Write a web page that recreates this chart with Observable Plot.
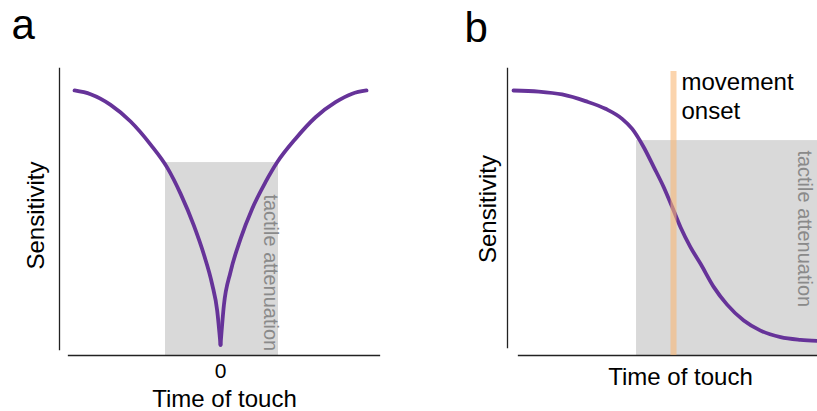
<!DOCTYPE html>
<html><head><meta charset="utf-8">
<script src="https://cdn.jsdelivr.net/npm/d3@7"></script>
<script src="https://cdn.jsdelivr.net/npm/@observablehq/plot@0.6"></script>
<style>
html,body{margin:0;padding:0;background:#fff;overflow:hidden;}
#wrap{display:flex;width:817px;height:411px;}
#wrap svg{display:block;flex:none;}
</style></head><body><div id="wrap"></div>
<script>
// ---- text ----
const panelLabels = ["a", "b"];
const axisTitleX = "Time of touch";
const axisTitleY = "Sensitivity";
const shadeLabel = "tactile attenuation";
const onsetLabel = "movement\nonset";

// ---- panel a: sensitivity around the time of touch ----
const aTime   = [-1.0, -0.89, -0.753, -0.616, -0.479, -0.365, -0.274, -0.183, -0.114, -0.057, -0.023, 0,
                 0, 0.023, 0.068, 0.137, 0.217, 0.308, 0.388, 0.514, 0.651, 0.788, 0.902, 1.0];
const aSens   = [1.0, 0.986, 0.946, 0.883, 0.796, 0.709, 0.611, 0.491, 0.381, 0.268, 0.17, 0.04,
                 0.04, 0.189, 0.314, 0.44, 0.554, 0.654, 0.729, 0.818, 0.899, 0.956, 0.988, 1.0];
const aBranch = ["before","before","before","before","before","before","before","before","before","before","before","before",
                 "after","after","after","after","after","after","after","after","after","after","after","after"];
const aTicks = [0];
const aShadeX = [-0.377, 0.397];
const aShadeY = [0, 0.728];
const aShadeLabelAt = [0.295, 0.608];

// ---- panel b: sensitivity around movement onset ----
const bTime = [-1.0, -0.842, -0.696, -0.55, -0.425, -0.321, -0.258, -0.186, -0.123, -0.061, -0.008, 0.044,
               0.106, 0.169, 0.252, 0.335, 0.439, 0.544, 0.669, 0.794, 0.9];
const bSens = [1.0, 0.996, 0.985, 0.96, 0.931, 0.893, 0.855, 0.786, 0.711, 0.635, 0.56, 0.484,
               0.409, 0.346, 0.258, 0.192, 0.132, 0.094, 0.069, 0.059, 0.055];
const bShadeX = [-0.231, 0.9];
const bShadeY = [0, 0.811];
const bOnset = [0];
const bOnsetTop = 1.072;
const bShadeLabelAt = [0.78, 0.774];

const font = "'Liberation Sans', Arial, Helvetica, sans-serif";
const purple = "#663399";
const shadeFill = "#d9d9d9";
const shadeText = "#8a8a8a";
const axisInk = "#222";
const titleSize = 24;

const dataA = aTime.map((t, i) => ({t, s: aSens[i], branch: aBranch[i]}));
const dataB = bTime.map((t, i) => ({t, s: bSens[i]}));

const plotA = Plot.plot({
  width: 410, height: 411,
  marginLeft: 59, marginRight: 31, marginTop: 68, marginBottom: 56,
  x: {domain: [-1.103, 1.089], axis: null},
  y: {domain: [0, 1.083], axis: null},
  style: {fontFamily: font, background: "white", color: "black"},
  marks: [
    Plot.rect([0], {x1: aShadeX[0], x2: aShadeX[1], y1: aShadeY[0], y2: aShadeY[1], fill: shadeFill}),
    Plot.text([shadeLabel], {x: aShadeLabelAt[0], y: aShadeLabelAt[1], text: d => d, rotate: 90,
      textAnchor: "start", lineAnchor: "bottom", fontSize: 20, fill: shadeText}),
    Plot.line(dataA, {x: "t", y: "s", z: "branch", stroke: purple, strokeWidth: 3.8, curve: "monotone-x"}),
    Plot.frame({anchor: "left", insetBottom: 6, stroke: axisInk, strokeWidth: 1.3}),
    Plot.frame({anchor: "bottom", insetLeft: 9, stroke: axisInk, strokeWidth: 1.3}),
    Plot.axisX(aTicks, {tickSize: 0, tickPadding: 8, fontSize: 21, label: null, tickFormat: d => String(d)}),
    Plot.text([axisTitleX], {frameAnchor: "bottom", text: d => d, dx: 5, dy: 51, textAnchor: "middle", lineAnchor: "bottom", fontSize: titleSize}),
    Plot.text([axisTitleY], {frameAnchor: "left", text: d => d, rotate: -90, dx: -16, dy: 3.5, textAnchor: "middle", lineAnchor: "bottom", fontSize: titleSize}),
    Plot.text([panelLabels[0]], {frameAnchor: "top-left", text: d => d, textAnchor: "start", lineAnchor: "bottom", dx: -48, dy: -30, fontSize: 42})
  ]
});

const plotB = Plot.plot({
  width: 407, height: 411,
  marginLeft: 97, marginRight: 0, marginTop: 68, marginBottom: 56,
  x: {domain: [-1.0375, 0.9], axis: null},
  y: {domain: [0, 1.083], axis: null},
  style: {fontFamily: font, background: "white", color: "black"},
  marks: [
    Plot.rect([0], {x1: bShadeX[0], x2: bShadeX[1], y1: bShadeY[0], y2: bShadeY[1], fill: shadeFill}),
    Plot.text([shadeLabel], {x: bShadeLabelAt[0], y: bShadeLabelAt[1], text: d => d, rotate: 90,
      textAnchor: "start", lineAnchor: "bottom", fontSize: 20, fill: shadeText}),
    Plot.line(dataB, {x: "t", y: "s", stroke: purple, strokeWidth: 3.8, curve: "monotone-x"}),
    Plot.frame({anchor: "left", insetBottom: 8, stroke: axisInk, strokeWidth: 1.3}),
    Plot.frame({anchor: "bottom", insetLeft: 11, stroke: axisInk, strokeWidth: 1.3}),
    Plot.ruleX(bOnset, {x: d => d, y1: 0, y2: bOnsetTop, stroke: "#f9b777", strokeOpacity: 0.6, strokeWidth: 6}),
    Plot.text([onsetLabel], {x: bOnset[0], y: bOnsetTop, text: d => d, dx: 8, dy: -2, textAnchor: "start",
      lineAnchor: "top", lineHeight: 1.2, fontSize: titleSize}),
    Plot.text([axisTitleX], {frameAnchor: "bottom", text: d => d, dx: 18, dy: 29, textAnchor: "middle", lineAnchor: "bottom", fontSize: titleSize}),
    Plot.text([axisTitleY], {frameAnchor: "left", text: d => d, rotate: -90, dx: -12, dy: -3, textAnchor: "middle", lineAnchor: "bottom", fontSize: titleSize}),
    Plot.text([panelLabels[1]], {frameAnchor: "top-left", text: d => d, textAnchor: "start", lineAnchor: "bottom", dx: -43, dy: -27, fontSize: 42})
  ]
});

document.getElementById("wrap").append(plotA, plotB);
</script>
</body></html>
